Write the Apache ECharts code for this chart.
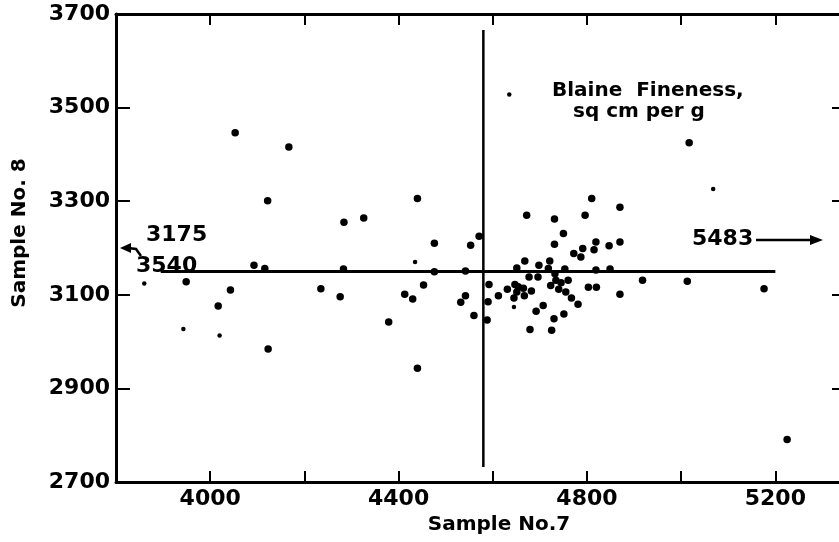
<!DOCTYPE html>
<html>
<head>
<meta charset="utf-8">
<script src="https://cdn.jsdelivr.net/npm/echarts@6/dist/echarts.min.js"></script>
<style>
  html, body { margin: 0; padding: 0; background: #fff; }
  #chart { width: 839px; height: 542px; }
</style>
</head>
<body>
<div id="chart"></div>
<script>
// Blaine fineness, sample no.7 (x) vs sample no.8 (y)
const dotsLarge = [
  [3949, 3128], [4017, 3076], [4043, 3110], [4053, 3446], [4093, 3163],
  [4116, 3156], [4122, 3301], [4123, 2984], [4167, 3416], [4235, 3113],
  [4276, 3096], [4283, 3155], [4284, 3255], [4326, 3264], [4379, 3042],
  [4413, 3101], [4430, 3091], [4440, 3306], [4440, 2943], [4453, 3121],
  [4476, 3210], [4476, 3149], [4532, 3084], [4542, 3098], [4542, 3151],
  [4553, 3206], [4560, 3056], [4571, 3225], [4588, 3046], [4590, 3085],
  [4592, 3122], [4612, 3098], [4631, 3112], [4645, 3093], [4647, 3122],
  [4651, 3157], [4651, 3106], [4654, 3117], [4665, 3114], [4667, 3098],
  [4668, 3172], [4672, 3270], [4677, 3138], [4679, 3026], [4682, 3108],
  [4692, 3065], [4696, 3138], [4698, 3163], [4707, 3077], [4718, 3156],
  [4721, 3172], [4723, 3120], [4725, 3024], [4730, 3049], [4731, 3208],
  [4731, 3262], [4732, 3145], [4734, 3131], [4740, 3112], [4745, 3126],
  [4750, 3231], [4751, 3059], [4753, 3155], [4755, 3106], [4760, 3131],
  [4767, 3093], [4772, 3188], [4781, 3080], [4787, 3181], [4791, 3199],
  [4796, 3270], [4803, 3116], [4810, 3306], [4815, 3196], [4819, 3213],
  [4819, 3153], [4820, 3116], [4847, 3205], [4849, 3155], [4870, 3287],
  [4870, 3213], [4870, 3101], [4918, 3131], [5013, 3129], [5017, 3425],
  [5176, 3113], [5225, 2791]
];
const dotsSmall = [
  [3860, 3124], [3943, 3027], [4020, 3013], [4435, 3170], [4645, 3074],
  [4635, 3528], [5068, 3326]
];
const meanHoriz = [[3895, 3150], [5200, 3150]];
const meanVert = [[4580, 2732], [4580, 3666]];
const xLabels = [4000, 4400, 4800, 5200];
const yLabels = [2700, 2900, 3100, 3300, 3500, 3700];

const FONT = '"DejaVu Sans", sans-serif';
const INK = '#000';

function frameAxis(pos, min, max, tickLen, labels, extra) {
  return Object.assign({
    type: 'value',
    position: pos,
    min: min,
    max: max,
    interval: 200,
    axisLine: { show: true, onZero: false, lineStyle: { color: INK, width: 3 } },
    axisTick: { show: true, inside: true, length: tickLen, lineStyle: { color: INK, width: 2 } },
    axisLabel: labels ? {
      show: true,
      color: INK,
      fontFamily: FONT,
      fontWeight: 'bold',
      fontSize: 22,
      margin: 6,
      showMinLabel: true,
      showMaxLabel: true,
      formatter: v => labels.includes(v) ? String(v) : ''
    } : { show: false },
    splitLine: { show: false }
  }, extra || {});
}

const chart = echarts.init(document.getElementById('chart'));
chart.setOption({
  animation: false,
  backgroundColor: '#fff',
  // right frame sits just past the window edge, as in the scan
  grid: { left: 116, top: 14, width: 730, height: 468, outerBoundsMode: 'none', containLabel: false },
  xAxis: [
    frameAxis('bottom', 3800, 5350, 11, xLabels, {
      name: 'Sample No.7',
      nameLocation: 'middle',
      nameGap: 32,
      nameTextStyle: { color: INK, fontFamily: FONT, fontWeight: 'bold', fontSize: 20, padding: [0, 0, 0, 36] }
    }),
    frameAxis('top', 3800, 5350, 11, null)
  ],
  yAxis: [
    frameAxis('left', 2700, 3700, 14, yLabels, {
      name: 'Sample No. 8',
      nameLocation: 'middle',
      nameGap: 86,
      nameTextStyle: { color: INK, fontFamily: FONT, fontWeight: 'bold', fontSize: 20, padding: [0, 0, 0, 30] }
    }),
    frameAxis('right', 2700, 3700, 14, null)
  ],
  series: [
    {
      type: 'line', data: meanHoriz, symbol: 'none',
      lineStyle: { color: INK, width: 3 }, z: 2
    },
    {
      type: 'line', data: meanVert, symbol: 'none',
      lineStyle: { color: INK, width: 2.5 }, z: 2
    },
    {
      type: 'scatter', data: dotsLarge, symbolSize: 7.5,
      itemStyle: { color: INK, opacity: 1 }, z: 3
    },
    {
      type: 'scatter', data: dotsSmall, symbolSize: 4.5,
      itemStyle: { color: INK, opacity: 1 }, z: 3
    }
  ],
  graphic: [
    { type: 'text', x: 552, y: 91, style: { text: 'Blaine  Fineness,', fill: INK, font: 'bold 20px ' + FONT, verticalAlign: 'middle' } },
    { type: 'text', x: 573, y: 112, style: { text: 'sq cm per g', fill: INK, font: 'bold 20px ' + FONT, verticalAlign: 'middle' } },
    { type: 'text', x: 146, y: 235, style: { text: '3175', fill: INK, font: 'bold 22px ' + FONT, verticalAlign: 'middle' } },
    { type: 'text', x: 136, y: 266, style: { text: '3540', fill: INK, font: 'bold 22px ' + FONT, verticalAlign: 'middle' } },
    { type: 'text', x: 692, y: 239, style: { text: '5483', fill: INK, font: 'bold 22px ' + FONT, verticalAlign: 'middle' } },
    { type: 'polyline', shape: { points: [[128, 248], [136, 249], [141, 256]] }, style: { stroke: INK, lineWidth: 2.5, fill: null } },
    { type: 'polygon', shape: { points: [[120, 248], [131, 243], [131, 253]] }, style: { fill: INK } },
    { type: 'line', shape: { x1: 756, y1: 240, x2: 812, y2: 240 }, style: { stroke: INK, lineWidth: 2.5 } },
    { type: 'polygon', shape: { points: [[823, 240], [810, 235], [810, 245]] }, style: { fill: INK } }
  ]
});
</script>
</body>
</html>
